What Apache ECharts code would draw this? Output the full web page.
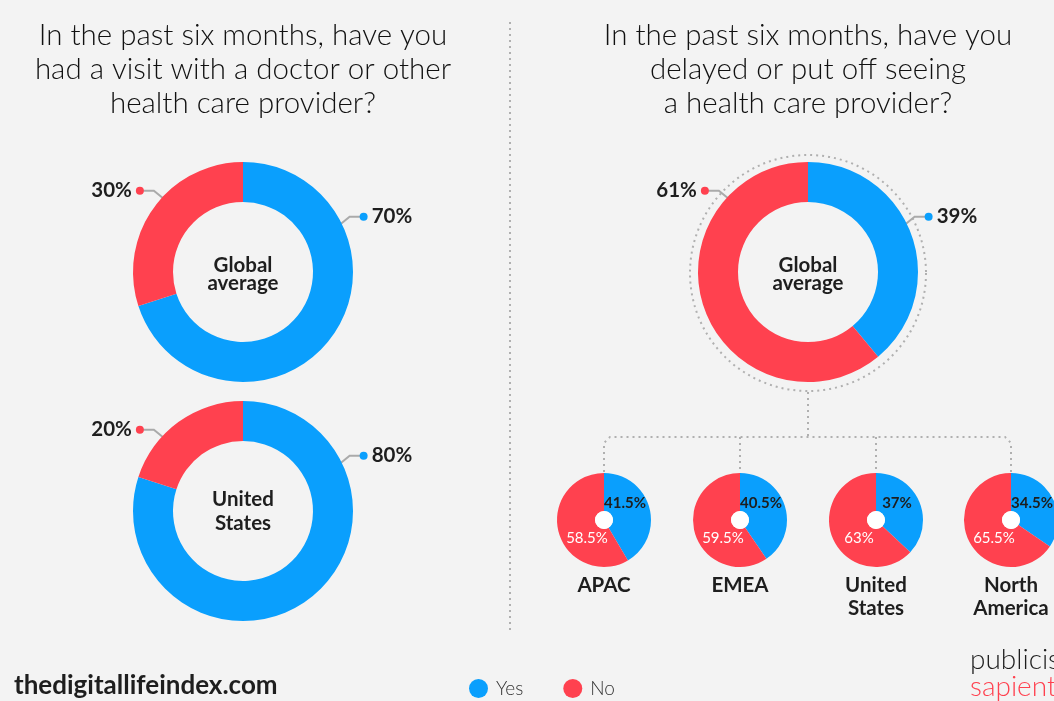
<!DOCTYPE html>
<html>
<head>
<meta charset="utf-8">
<script src="https://cdn.jsdelivr.net/npm/echarts@6/dist/echarts.min.js"></script>
<style>
  html, body { margin: 0; padding: 0; background: #f3f3f3; }
  #chart { width: 1054px; height: 701px; }
</style>
</head>
<body>
<div id="chart"></div>
<script>
var answers = ['Yes', 'No'];
var visitGlobal = [70, 30];
var visitUS = [80, 20];
var delayGlobal = [39, 61];
var regions = ['APAC', 'EMEA', 'United\nStates', 'North\nAmerica'];
var delayYes = [41.5, 40.5, 37, 34.5];
var delayNo = [58.5, 59.5, 63, 65.5];

var BLUE = '#0a9ffd';
var RED = '#ff414f';
var INK = '#1e1e1e';
var FONT = 'Lato';

var chart = echarts.init(document.getElementById('chart'));

function pairs(vals) {
    return answers.map(function (a, i) { return { name: a, value: vals[i] }; });
}

// labels sit on fixed spots above the ring, like the original design
function donutLayout(cx, cy) {
    return function (p) {
        var right = p.dataIndex === 0;
        var a = (right ? 65 : -47) * Math.PI / 180;
        var s = right ? 1 : -1;
        var sx = cx + 100 * Math.sin(a), sy = cy - 100 * Math.cos(a);
        var ex = sx + s * 16, ey = sy - 13;
        var dx = ex + s * 14;
        return {
            x: dx - s * 4, y: ey,
            align: right ? 'left' : 'right',
            verticalAlign: 'middle',
            labelLinePoints: [[sx, sy], [ex, ey], [dx, ey]]
        };
    };
}

function donut(cx, cy, vals) {
    return {
        type: 'pie',
        center: [cx, cy],
        radius: [70, 110],
        startAngle: 90,
        clockwise: true,
        avoidLabelOverlap: false,
        silent: true,
        data: pairs(vals),
        label: {
            show: true,
            position: 'outside',
            formatter: function (p) {
                return p.dataIndex === 0 ? '{d' + p.dataIndex + '|}{v|' + p.value + '%}'
                                         : '{v|' + p.value + '%}{d' + p.dataIndex + '|}';
            },
            rich: {
                v: { fontFamily: FONT, fontWeight: 'bold', fontSize: 20.5, color: INK, padding: [0, 4, 0, 4] },
                d0: { width: 8, height: 8, borderRadius: 4, backgroundColor: BLUE },
                d1: { width: 8, height: 8, borderRadius: 4, backgroundColor: RED }
            }
        },
        labelLine: { show: true, lineStyle: { color: '#aaaaaa', width: 2 } },
        labelLayout: donutLayout(cx, cy)
    };
}

var smallX = [604, 740, 876, 1011];
var smallY = 520;

function smallPie(i) {
    var cx = smallX[i];
    return {
        type: 'pie',
        center: [cx, smallY],
        radius: [9, 47],
        startAngle: 90,
        clockwise: true,
        avoidLabelOverlap: false,
        silent: true,
        data: pairs([delayYes[i], delayNo[i]]),
        label: {
            show: true,
            position: 'inside',
            formatter: '{c}%',
            fontFamily: FONT,
            fontSize: 15
        },
        labelLine: { show: false },
        labelLayout: function (p) {
            var yes = p.dataIndex === 0;
            return {
                x: yes ? cx + 21 : cx - 17,
                y: yes ? smallY - 17 : smallY + 18,
                align: 'center',
                verticalAlign: 'middle'
            };
        },
        emphasis: { disabled: true }
    };
}

var series = [
    donut(243, 272, visitGlobal),
    donut(243, 511, visitUS),
    donut(808, 272, delayGlobal)
];
for (var i = 0; i < regions.length; i++) {
    var sp = smallPie(i);
    sp.data[0].label = { color: INK, fontWeight: 'bold' };
    sp.data[1].label = { color: '#ffffff', fontWeight: 'normal' };
    series.push(sp);
}

function heading(text, x) {
    return {
        text: text, left: x, top: 18, textAlign: 'center', padding: 0,
        textStyle: { fontFamily: FONT, fontWeight: 300, fontSize: 29.5, lineHeight: 34, color: '#111111' }
    };
}
function centre(text, x, top, lh) {
    return {
        text: text, left: x, top: top, textAlign: 'center', padding: 0,
        textStyle: { fontFamily: FONT, fontWeight: 'bold', fontSize: 20.5, lineHeight: lh, color: INK }
    };
}

var titles = [
    heading('In the past six months, have you\nhad a visit with a doctor or other\nhealth care provider?', 243),
    heading('In the past six months, have you\ndelayed or put off seeing\na health care provider?', 808),
    centre('Global\naverage', 243, 256, 18),
    centre('United\nStates', 243, 487, 24),
    centre('Global\naverage', 808, 256, 18),
    {
        text: 'thedigitallifeindex.com', left: 14, top: 673, padding: 0,
        textStyle: { fontFamily: FONT, fontWeight: 'bold', fontSize: 26, color: INK }
    },
    {
        text: 'publicis', left: 970, top: 646, padding: 0,
        textStyle: { fontFamily: FONT, fontWeight: 300, fontSize: 28, color: INK }
    },
    {
        text: 'sapient', left: 970, top: 673, padding: 0,
        textStyle: { fontFamily: FONT, fontWeight: 300, fontSize: 28, color: RED }
    }
];
regions.forEach(function (r, i) {
    titles.push({
        text: r, left: smallX[i], top: 574, textAlign: 'center', padding: 0,
        textStyle: { fontFamily: FONT, fontWeight: 'bold', fontSize: 20.5, lineHeight: 23, color: INK }
    });
});

var dotted = { stroke: '#b0b0b0', lineWidth: 2, lineDash: [2, 4], fill: null };
var graphics = [
    { type: 'polyline', shape: { points: [[510, 22], [510, 630]] }, style: dotted, silent: true },
    { type: 'circle', shape: { cx: 808, cy: 273, r: 118 }, style: dotted, silent: true, z: -1 },
    { type: 'polyline', shape: { points: [[808, 392], [808, 437]] }, style: dotted, silent: true },
    { type: 'polyline', shape: { points: [[604, 472], [604, 443], [610, 437], [1005, 437], [1011, 443], [1011, 472]] }, style: dotted, silent: true },
    { type: 'polyline', shape: { points: [[740, 437], [740, 472]] }, style: dotted, silent: true },
    { type: 'polyline', shape: { points: [[876, 437], [876, 472]] }, style: dotted, silent: true }
];
smallX.forEach(function (x) {
    graphics.push({ type: 'circle', shape: { cx: x, cy: smallY, r: 9 }, style: { fill: '#ffffff' }, silent: true, z: 10 });
});

chart.setOption({
    backgroundColor: '#f3f3f3',
    color: [BLUE, RED],
    animation: false,
    title: titles,
    legend: {
        data: answers,
        left: 469, top: 679,
        padding: 0,
        icon: 'circle',
        itemWidth: 19, itemHeight: 19,
        itemGap: 40,
        selectedMode: false,
        textStyle: { fontFamily: FONT, fontWeight: 300, fontSize: 19, color: '#333333', padding: [0, 0, 0, 3] }
    },
    graphic: graphics,
    series: series
});
</script>
</body>
</html>
